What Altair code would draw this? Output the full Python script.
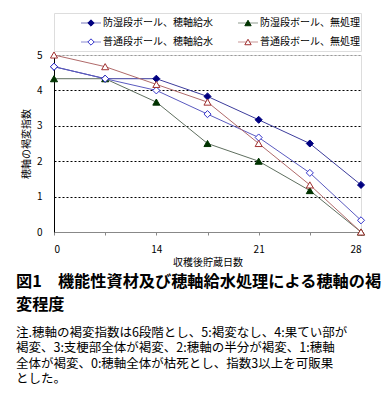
import altair as alt
import pandas as pd

FONT = "Noto Sans CJK JP"

series = ["防湿段ボール、穂軸給水", "防湿段ボール、無処理", "普通段ボール、穂軸給水", "普通段ボール、無処理"]
x_index = [0, 1, 2, 3, 4, 5, 6]
tick_labels = ["0", "", "14", "", "21", "", "28"]
s1 = [4.67, 4.33, 4.33, 3.83, 3.17, 2.5, 1.33]
s2 = [4.33, 4.33, 3.67, 2.5, 2.0, 1.17, 0.0]
s3 = [4.67, 4.33, 4.0, 3.33, 2.67, 1.67, 0.33]
s4 = [5.0, 4.67, 4.17, 3.67, 2.5, 1.33, 0.0]
values = [s1, s2, s3, s4]
y_ticks = [0, 1, 2, 3, 4, 5]

legend_col = [0, 1, 0, 1]
legend_row = [0, 0, 1, 1]

line_colors = ["#3c3c9c", "#5f6f5f", "#5a5ac0", "#b06a6a"]
stroke_colors = ["#000080", "#003300", "#3333cc", "#a03030"]
fill_colors = ["#000080", "#003300", "#ffffff", "#ffffff"]
shapes = ["diamond", "triangle-up", "diamond", "triangle-up"]

title_lines = ["図1　機能性資材及び穂軸給水処理による穂軸の褐", "　　  変程度"]
note_lines = [
    "注.穂軸の褐変指数は6段階とし、5:褐変なし、4:果てい部が",
    "　 褐変、3:支梗部全体が褐変、2:穂軸の半分が褐変、1:穂軸",
    "　 全体が褐変、0:穂軸全体が枯死とし、指数3以上を可販果",
    "　 とした。",
]

df = pd.DataFrame(
    [dict(series=s, x=x, y=v) for s, vals in zip(series, values) for x, v in zip(x_index, vals)]
)
df_leg = pd.DataFrame(dict(series=series, col=legend_col, row=legend_row))

sc_line = alt.Scale(domain=series, range=line_colors)
sc_stroke = alt.Scale(domain=series, range=stroke_colors)
sc_fill = alt.Scale(domain=series, range=fill_colors)
sc_shape = alt.Scale(domain=series, range=shapes)

label_expr = "[" + ",".join("'" + t + "'" for t in tick_labels) + "][datum.value]"

x_enc = alt.X(
    "x:Q",
    scale=alt.Scale(domain=[0, 6], nice=False, zero=False),
    axis=alt.Axis(
        values=x_index, tickCount=10, labelExpr=label_expr, title="収穫後貯蔵日数", grid=False,
        domainColor="#888888", tickColor="#888888", tickSize=3, labelPadding=9,
        titlePadding=3, labelFontSize=10, titleFontSize=10, labelColor="black",
        titleColor="black", labelFont=FONT, titleFont=FONT, titleFontWeight="normal",
        labelOverlap=False,
    ),
)
y_enc = alt.Y(
    "y:Q",
    scale=alt.Scale(domain=[0, 5], nice=False),
    axis=alt.Axis(
        values=y_ticks, tickCount=10, format="d", title="穂軸の褐変指数", grid=True, gridDash=[2, 2],
        gridColor={"condition": [{"test": "datum.value == 5", "value": "#999999"},
                                 {"test": "datum.value == 0", "value": "transparent"}],
                   "value": "#000000"},
        domainColor="#000000", ticks=False, labelPadding=12, titlePadding=5,
        labelFontSize=10, titleFontSize=10, labelColor="black", titleColor="black",
        labelFont=FONT, titleFont=FONT, titleFontWeight="normal", labelOverlap=False,
    ),
)

lines = alt.Chart(df).mark_line(strokeWidth=1).encode(
    x=x_enc, y=y_enc,
    color=alt.Color("series:N", scale=sc_line, legend=None),
    detail="series:N",
)
points = alt.Chart(df).mark_point(size=50, strokeWidth=1, opacity=1, filled=False).encode(
    x="x:Q", y="y:Q",
    stroke=alt.Stroke("series:N", scale=sc_stroke, legend=None),
    fill=alt.Fill("series:N", scale=sc_fill, legend=None),
    shape=alt.Shape("series:N", scale=sc_shape, legend=None),
)
main = alt.layer(lines, points).properties(width=307, height=177)

base = alt.Chart(df_leg).encode(
    x=alt.X("col:Q", scale=alt.Scale(domain=[0, 1], range=[37, 194]), axis=None),
    y=alt.Y("row:Q", scale=alt.Scale(domain=[0, 1], range=[10, 29]), axis=None),
)
leg_tick = base.mark_tick(orient="horizontal", size=20, thickness=1).encode(
    color=alt.Color("series:N", scale=sc_line, legend=None)
)
leg_pt = base.mark_point(size=40, strokeWidth=1, opacity=1).encode(
    stroke=alt.Stroke("series:N", scale=sc_stroke, legend=None),
    fill=alt.Fill("series:N", scale=sc_fill, legend=None),
    shape=alt.Shape("series:N", scale=sc_shape, legend=None),
)
leg_txt = base.mark_text(align="left", baseline="middle", dx=12, fontSize=10, font=FONT, color="black").encode(
    text="series:N"
)
legend = alt.layer(leg_tick, leg_pt, leg_txt).properties(width=307, height=38)

chart = alt.vconcat(legend, main, spacing=4, bounds="flush").properties(
    title=alt.TitleParams(
        text=title_lines, subtitle=note_lines, orient="bottom", anchor="start",
        font=FONT, fontSize=16.2, fontWeight="bold", lineHeight=23, color="black",
        subtitleFont=FONT, subtitleFontSize=12.5, subtitleLineHeight=15.5,
        subtitlePadding=14, subtitleColor="black", offset=6, dx=-5,
    ),
    padding={"top": 4, "left": 7, "right": 0, "bottom": 0},
).configure_view(stroke=None).configure(background="white")

chart.save("out.html", embed_options={"renderer": "svg", "actions": False})
